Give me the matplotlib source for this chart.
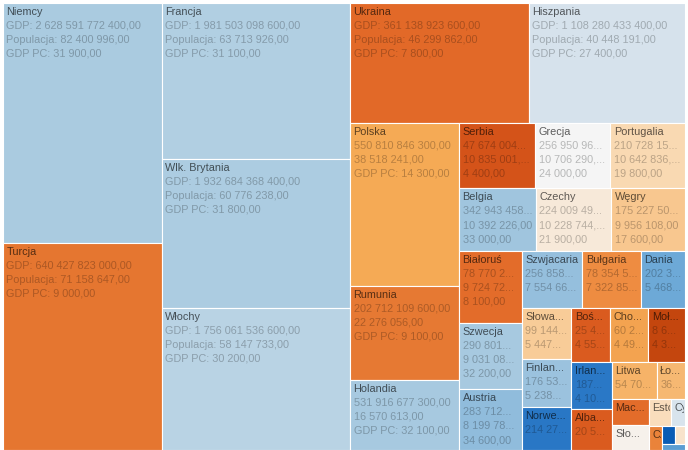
import matplotlib
matplotlib.use("Agg")
import matplotlib.pyplot as plt
from matplotlib.colors import LinearSegmentedColormap, Normalize, to_rgb
from matplotlib.patches import Rectangle
from matplotlib.transforms import Bbox, TransformedBbox

# dane: kraj, PKB, populacja, PKB per capita
kraje = ["Niemcy", "Turcja", "Francja", "Wlk. Brytania", "Włochy", "Ukraina",
         "Hiszpania", "Polska", "Rumunia", "Holandia", "Serbia", "Grecja",
         "Portugalia", "Belgia", "Czechy", "Węgry", "Białoruś", "Szwecja",
         "Austria", "Szwjacaria", "Bułgaria", "Dania", "Słowacja", "Finlandia",
         "Norwegia", "Bośnia i Hercegowina", "Chorwacja", "Mołdawia", "Irlandia",
         "Albania", "Litwa", "Łotwa", "Macedonia", "Słowenia", "Estonia", "Cypr",
         "Czarnogóra", "Luksemburg", "Malta", "Islandia"]
gdp = [2628591772400, 640427823000, 1981503098600, 1932684368400, 1756061536600,
       361138923600, 1108280433400, 550810846300, 202712109600, 531916677300,
       47674004400, 256950960000, 210728152800, 342943458000, 224009493600,
       175227500800, 78770256300, 290801033600, 283712491800, 256858474000,
       78354580600, 202320440000, 99144536400, 176536102000, 214273973800,
       25492308800, 60210380800, 8640980000, 187374321600, 20522981100,
       54704216700, 36156960000, 16858503000, 47016333000, 26713013600,
       21367184700, 6778886400, 34287850800, 8439480000, 11896081400]
populacja = [82400996, 71158647, 63713926, 60776238, 58147733, 46299862,
             40448191, 38518241, 22276056, 16570613, 10835001, 10706290,
             10642836, 10392226, 10228744, 9956108, 9724723, 9031088,
             8199783, 7554661, 7322858, 5468120, 5447502, 5238460,
             4627926, 4552198, 4493312, 4320490, 4109086, 3600523,
             3575439, 2259810, 2055915, 2009245, 1315912, 788457,
             684736, 480222, 401880, 301931]
gdp_pc = [31900, 9000, 31100, 31800, 30200, 7800, 27400, 14300, 9100, 32100,
          4400, 24000, 19800, 33000, 21900, 17600, 8100, 32200, 34600, 34000,
          10700, 37000, 18200, 33700, 46300, 5600, 13400, 2000, 45600, 5700,
          15300, 16000, 8200, 23400, 20300, 27100, 9900, 71400, 21000, 39400]

# skala kolorow (pomaranczowy -> bialy -> niebieski)
stops = [(2000, "#c4460e"), (4400, "#d6541a"), (7800, "#e26a28"), (9000, "#e67832"),
         (10700, "#ee8c41"), (14300, "#f5aa55"), (17600, "#f8c891"), (19800, "#f9dab4"),
         (21900, "#f7e9da"), (24000, "#f5f5f5"), (27400, "#d5e2ec"), (31900, "#aacbe0"),
         (34600, "#91bcdc"), (37000, "#6eaad7"), (45600, "#2a78c6"), (71400, "#0a5cb5")]
vmin, vmax = stops[0][0], stops[-1][0]
cmap = LinearSegmentedColormap.from_list(
    "gdppc", [((v - vmin) / (vmax - vmin), c) for v, c in stops])
norm = Normalize(vmin, vmax)

W, H = 682.0, 447.0


def worst(row, w):
    s = sum(row)
    return max(max(w * w * r / (s * s), s * s / (w * w * r)) for r in row)


def squarify(sizes, x, y, dx, dy):
    rects = []
    sizes = list(sizes)
    while sizes:
        short = min(dx, dy)
        i = 1
        while i < len(sizes) and worst(sizes[:i + 1], short) <= worst(sizes[:i], short):
            i += 1
        row = sizes[:i]
        sizes = sizes[i:]
        s = sum(row)
        if dx >= dy:
            cw = s / dy
            yy = y
            for r in row:
                h = r / cw
                rects.append((x, yy, cw, h))
                yy += h
            x += cw
            dx -= cw
        else:
            rh = s / dx
            xx = x
            for r in row:
                w = r / rh
                rects.append((xx, y, w, rh))
                xx += w
            y += rh
            dy -= rh
    return rects


def fmt(v):
    return f"{v:,.2f}".replace(",", " ").replace(".", ",")


order = sorted(range(len(kraje)), key=lambda k: -populacja[k])
total = sum(populacja)
sizes = [populacja[k] * W * H / total for k in order]
rects = squarify(sizes, 0, 0, W, H)

fig = plt.figure(figsize=(6.88, 4.5), dpi=100)
ax = fig.add_axes([3 / 688, 0, W / 688, H / 450])
ax.set_xlim(0, W)
ax.set_ylim(H, 0)
ax.axis("off")
renderer = fig.canvas.get_renderer()

for k, (x, y, w, h) in zip(order, rects):
    col = cmap(norm(gdp_pc[k]))
    rgb = to_rgb(col)
    patch = Rectangle((x, y), w, h, facecolor=col, edgecolor="white", lw=0.8)
    ax.add_patch(patch)
    clip = TransformedBbox(Bbox.from_bounds(x, y, w - 1, h), ax.transData)
    name_c = tuple(c * 0.38 for c in rgb)
    val_c = tuple(c * 0.75 for c in rgb)
    lines = [[kraje[k]],
             ["GDP: " + fmt(gdp[k]), fmt(gdp[k])],
             ["Populacja: " + fmt(populacja[k]), fmt(populacja[k])],
             ["GDP PC: " + fmt(gdp_pc[k]), fmt(gdp_pc[k])]]
    n = int((h - 4) // 14)
    avail = w - 7
    for i, cands in enumerate(lines[:n]):
        t = ax.text(x + 3.5, y + 12 + 14 * i, cands[0], fontsize=7.8,
                    family="Liberation Sans", va="baseline", ha="left",
                    color=name_c if i == 0 else val_c)
        t.set_clip_box(clip)
        t.set_clip_on(True)
        done = False
        for c in cands:
            t.set_text(c)
            if t.get_window_extent(renderer).width <= avail:
                done = True
                break
        if not done:
            base = cands[-1]
            for m in range(len(base) - 1, 0, -1):
                t.set_text(base[:m].rstrip() + "...")
                if t.get_window_extent(renderer).width <= avail:
                    done = True
                    break
            if not done:
                t.set_text(cands[0])

fig.savefig("out.png", dpi=100)
